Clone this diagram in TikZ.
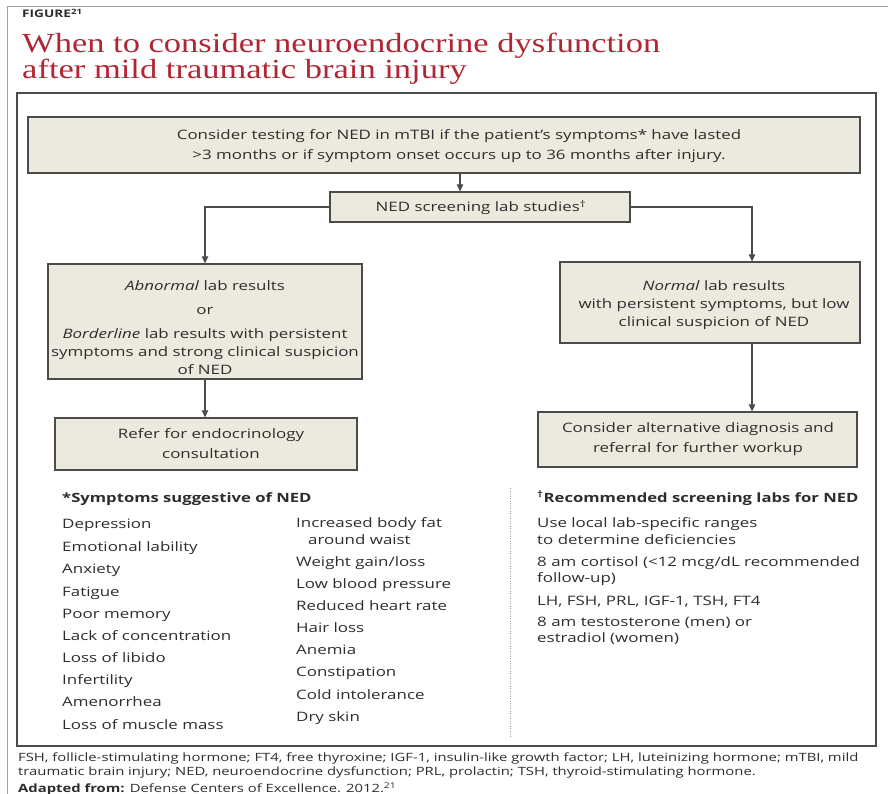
\documentclass[tikz,border=0pt]{standalone}
\usepackage{fontspec}
\setmainfont{Open Sans}[FakeStretch=1.3]
\newfontfamily\titlefont{Liberation Serif}[FakeStretch=1.25]
\usetikzlibrary{arrows.meta}
\definecolor{titlered}{RGB}{178,38,52}
\definecolor{boxfill}{RGB}{236,233,222}
\definecolor{boxline}{RGB}{75,75,75}
\definecolor{txtc}{RGB}{45,45,45}
\definecolor{framec}{RGB}{160,160,160}
\begin{document}
\begin{tikzpicture}[x=1pt,y=-1pt,
  bx/.style={draw=boxline, line width=1.3pt, fill=boxfill, inner sep=0pt},
  bt/.style={anchor=base, inner sep=0pt, text=txtc, font=\fontsize{13}{16}\selectfont},
  conn/.style={draw=boxline, line width=1.2pt},
  arr/.style={conn, -{Triangle[length=7pt,width=6.5pt]}},
  lbl/.style={anchor=base west, inner sep=0pt, text=txtc, font=\fontsize{13}{16}\selectfont},
  hdr/.style={lbl, font=\fontsize{12.8}{16}\selectfont\bfseries},
  foot/.style={anchor=base west, inner sep=0pt, text=txtc, font=\fontsize{11.4}{13}\selectfont},
  ttl/.style={anchor=base west, inner sep=0pt, text=titlered, font=\titlefont\fontsize{27.6}{30}\selectfont}]
\fill[white] (0,0) rectangle (888,794);
\useasboundingbox (0,0) rectangle (888,794);
% outer frame
\draw[framec, line width=1pt] (7,800) -- (7,7) -- (900,7);
% header
\node[anchor=base west, inner sep=0pt, text=txtc, font=\fontsize{10.5}{12}\selectfont\bfseries] (fig) at (22,18) {FIGURE\textsuperscript{21}};
\node[ttl] (t1) at (22,53) {When to consider neuroendocrine dysfunction};
\node[ttl] (t2) at (22,79) {after mild traumatic brain injury};
% inner frame
\draw[boxline, line width=1.3pt] (17,93) rectangle (876,746);
% flow boxes (frames)
\node[bx, minimum width=832pt, minimum height=56pt] (top) at (444,145) {};
\node[bx, minimum width=300pt, minimum height=30pt] (scr) at (480,207) {};
\node[bx, minimum width=314pt, minimum height=115pt] (abn) at (205,321.5) {};
\node[bx, minimum width=300pt, minimum height=81pt] (nor) at (710,302.5) {};
\node[bx, minimum width=302pt, minimum height=52pt] (ref) at (206,444) {};
\node[bx, minimum width=319pt, minimum height=55pt] (alt) at (697.5,439.5) {};
% box texts
\node[bt] (top1) at (459,139.5) {Consider testing for NED in mTBI if the patient’s symptoms* have lasted};
\node[bt] (top2) at (459,159.5) {>3 months or if symptom onset occurs up to 36 months after injury.};
\node[bt] (scr1) at (481,211.5) {NED screening lab studies\textsuperscript{†}};
\node[bt] (abn1) at (205,290.5) {\textit{Abnormal} lab results};
\node[bt] (abn2) at (205,314.5) {or};
\node[bt] (abn3) at (205,338.5) {\textit{Borderline} lab results with persistent};
\node[bt] (abn4) at (205,356.5) {symptoms and strong clinical suspicion};
\node[bt] (abn5) at (205,374.5) {of NED};
\node[bt] (nor1) at (714,290) {\textit{Normal} lab results};
\node[bt] (nor2) at (714,308) {with persistent symptoms, but low};
\node[bt] (nor3) at (714,326) {clinical suspicion of NED};
\node[bt] (ref1) at (211,438.5) {Refer for endocrinology};
\node[bt] (ref2) at (211,458.5) {consultation};
\node[bt] (alt1) at (698,432.5) {Consider alternative diagnosis and};
\node[bt] (alt2) at (698,452.5) {referral for further workup};
% connectors
\draw[arr] (top.south -| 460,0) -- (scr.north -| 460,0);
\draw[arr] (scr.west) -| (abn.north -| 205,0);
\draw[arr] (scr.east) -| (nor.north -| 752,0);
\draw[arr] (abn.south -| 205,0) -- (ref.north -| 205,0);
\draw[arr] (nor.south -| 752,0) -- (alt.north -| 752,0);
% separator
\draw[framec, line width=1pt, dash pattern=on 1pt off 1.5pt] (510,488) -- (510,738);
% symptom list
\node[hdr] (h1) at (62,502) {*Symptoms suggestive of NED};
\node[lbl] (a1) at (62,528) {Depression};
\node[lbl] (a2) at (62,551) {Emotional lability};
\node[lbl] (a3) at (62,573) {Anxiety};
\node[lbl] (a4) at (62,596) {Fatigue};
\node[lbl] (a5) at (62,618) {Poor memory};
\node[lbl] (a6) at (62,640) {Lack of concentration};
\node[lbl] (a7) at (62,662) {Loss of libido};
\node[lbl] (a8) at (62,684) {Infertility};
\node[lbl] (a9) at (62,706) {Amenorrhea};
\node[lbl] (a10) at (62,729) {Loss of muscle mass};
\node[lbl] (b1) at (296,527) {Increased body fat};
\node[lbl] (b1b) at (308,544) {around waist};
\node[lbl] (b2) at (296,566) {Weight gain/loss};
\node[lbl] (b3) at (296,588) {Low blood pressure};
\node[lbl] (b4) at (296,610) {Reduced heart rate};
\node[lbl] (b5) at (296,632) {Hair loss};
\node[lbl] (b6) at (296,654) {Anemia};
\node[lbl] (b7) at (296,676) {Constipation};
\node[lbl] (b8) at (296,699) {Cold intolerance};
\node[lbl] (b9) at (296,721) {Dry skin};
% labs
\node[hdr] (h2) at (537,502) {\textsuperscript{†}Recommended screening labs for NED};
\node[lbl] (c1) at (537,527) {Use local lab-specific ranges};
\node[lbl] (c1b) at (537,544) {to determine deficiencies};
\node[lbl] (c2) at (537,566) {8 am cortisol (<12 mcg/dL recommended};
\node[lbl] (c2b) at (537,582) {follow-up)};
\node[lbl] (c3) at (537,605) {LH, FSH, PRL, IGF-1, TSH, FT4};
\node[lbl] (c4) at (537,626) {8 am testosterone (men) or};
\node[lbl] (c4b) at (537,642) {estradiol (women)};
% footer
\node[foot] (f1) at (18,761) {FSH, follicle-stimulating hormone; FT4, free thyroxine; IGF-1, insulin-like growth factor; LH, luteinizing hormone; mTBI, mild};
\node[foot] (f2) at (18,775) {traumatic brain injury; NED, neuroendocrine dysfunction; PRL, prolactin; TSH, thyroid-stimulating hormone.};
\node[foot] (f3) at (18,792) {\textbf{Adapted from:} Defense Centers of Excellence. 2012.\textsuperscript{21}};
\end{tikzpicture}
\end{document}
